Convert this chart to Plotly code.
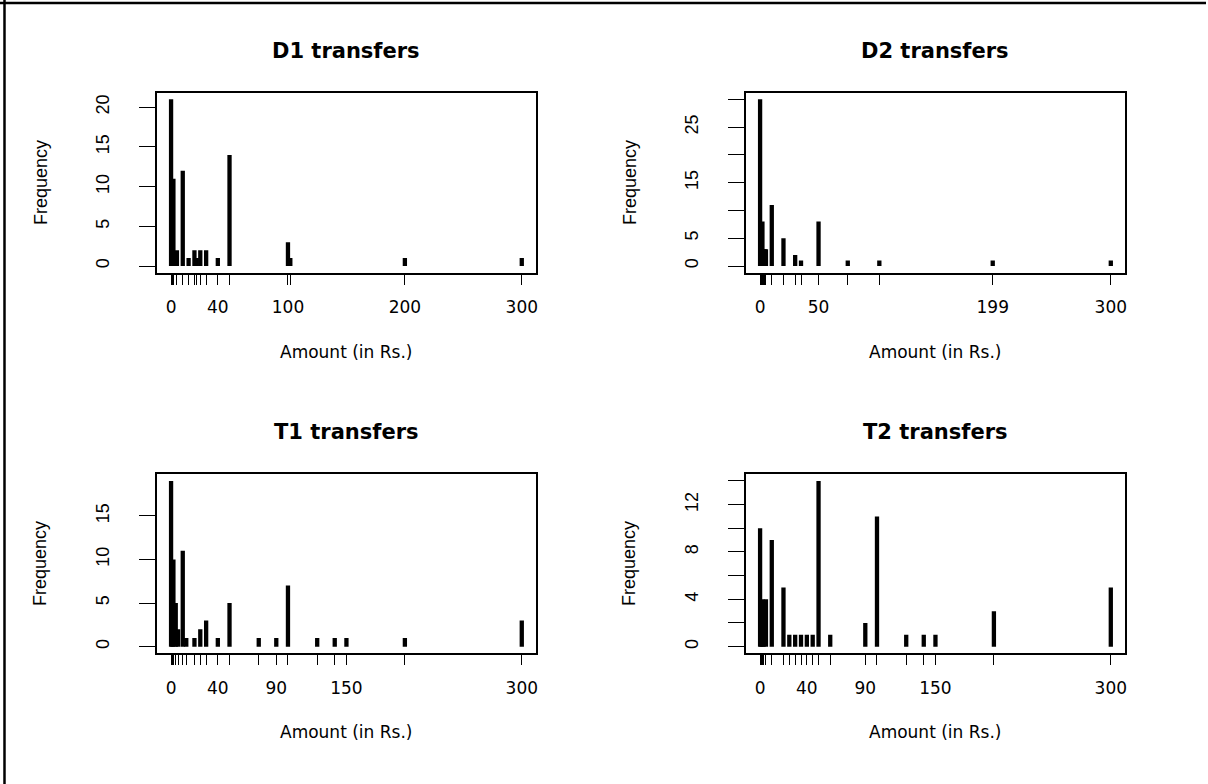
import plotly.graph_objects as go

# ---------------- data ----------------
d1_amount = [0, 1, 2, 5, 10, 15, 20, 22, 25, 30, 40, 50, 100, 102, 200, 300]
d1_freq   = [21, 5, 11, 2, 12, 1, 2, 1, 2, 2, 1, 14, 3, 1, 1, 1]
d1_xlabels = [0, 40, 100, 200, 300]
d1_yticks = [0, 5, 10, 15, 20]
d1_ylabels = [0, 5, 10, 15, 20]

d2_amount = [0, 1, 2, 3, 4, 5, 10, 20, 30, 35, 50, 75, 102, 199, 300]
d2_freq   = [30, 2, 8, 3, 3, 3, 11, 5, 2, 1, 8, 1, 1, 1, 1]
d2_xlabels = [0, 50, 199, 300]
d2_yticks = [0, 5, 10, 15, 20, 25, 30]
d2_ylabels = [0, 5, 15, 25]

t1_amount = [0, 1, 2, 4, 6, 10, 13, 20, 25, 30, 40, 50, 75, 90, 100, 125, 140, 150, 200, 300]
t1_freq   = [19, 3, 10, 5, 2, 11, 1, 1, 2, 3, 1, 5, 1, 1, 7, 1, 1, 1, 1, 3]
t1_xlabels = [0, 40, 90, 150, 300]
t1_yticks = [0, 5, 10, 15]
t1_ylabels = [0, 5, 10, 15]

t2_amount = [0, 1, 2, 3, 5, 10, 20, 25, 30, 35, 40, 45, 50, 60, 90, 100, 125, 140, 150, 200, 300]
t2_freq   = [10, 3, 4, 2, 4, 9, 5, 1, 1, 1, 1, 1, 14, 1, 2, 11, 1, 1, 1, 3, 5]
t2_xlabels = [0, 40, 90, 150, 300]
t2_yticks = [0, 2, 4, 6, 8, 10, 12, 14]
t2_ylabels = [0, 4, 8, 12]

titles = ["D1 transfers", "D2 transfers", "T1 transfers", "T2 transfers"]
xlab = "Amount (in Rs.)"
ylab = "Frequency"

panels = [
    (d1_amount, d1_freq, d1_xlabels, d1_yticks, d1_ylabels),
    (d2_amount, d2_freq, d2_xlabels, d2_yticks, d2_ylabels),
    (t1_amount, t1_freq, t1_xlabels, t1_yticks, t1_ylabels),
    (t2_amount, t2_freq, t2_xlabels, t2_yticks, t2_ylabels),
]

# ---------------- layout geometry (pixels) ----------------
W, H = 1208, 784
boxes = [  # left, right, top, bottom
    (157.3, 536.7, 92.7, 272.7),
    (747.3, 1126.7, 92.7, 272.7),
    (157.3, 536.7, 474.3, 653.3),
    (747.3, 1126.7, 474.3, 653.3),
]

fig = go.Figure()
layout = dict(
    width=W, height=H, margin=dict(l=0, r=0, t=0, b=0),
    paper_bgcolor="white", plot_bgcolor="white", showlegend=False,
)
annotations = []

for i, ((amt, freq, xl, ytv, yl), (L, R, T, B)) in enumerate(zip(panels, boxes)):
    n = "" if i == 0 else str(i + 1)
    xs, ys = [], []
    for a, f in zip(amt, freq):
        xs += [a, a, None]
        ys += [0, f, None]
    fig.add_trace(go.Scatter(x=xs, y=ys, mode="lines",
                             line=dict(color="black", width=4.3),
                             xaxis="x" + n, yaxis="y" + n, hoverinfo="skip"))
    xmin, xmax = min(amt), max(amt)
    xpad = 0.04 * (xmax - xmin)
    ymax = max(freq)
    ypad = 0.04 * ymax
    layout["xaxis" + n] = dict(
        domain=[L / W, R / W], anchor="y" + n,
        range=[xmin - xpad, xmax + xpad],
        tickmode="array", tickvals=amt,
        ticktext=[str(a) if a in xl else "" for a in amt],
        ticks="outside", ticklen=10, tickwidth=1.2, tickcolor="black",
        showline=True, linecolor="black", linewidth=1.8, mirror=True,
        showgrid=False, zeroline=False,
        tickfont=dict(family="DejaVu Sans", size=17, color="black"),
        ticklabelstandoff=8,
    )
    layout["yaxis" + n] = dict(
        domain=[1 - B / H, 1 - T / H], anchor="x" + n,
        range=[-ypad, ymax + ypad],
        tickmode="array", tickvals=ytv,
        ticktext=[str(v) if v in yl else "" for v in ytv],
        tickangle=-90,
        ticks="outside", ticklen=16, tickwidth=1.2, tickcolor="black",
        showline=True, linecolor="black", linewidth=1.8, mirror=True,
        showgrid=False, zeroline=False,
        tickfont=dict(family="Liberation Sans", size=18, color="black"),
        ticklabelstandoff=23,
    )
    cx = (L + R) / 2
    cy = (T + B) / 2
    annotations.append(dict(text="<b>" + titles[i] + "</b>", x=cx / W, y=1 - (T - 42) / H,
                            xref="paper", yref="paper", showarrow=False,
                            xanchor="center", yanchor="middle",
                            font=dict(family="DejaVu Sans", size=21, color="black")))
    annotations.append(dict(text=xlab, x=cx / W, y=1 - (B + 79) / H,
                            xref="paper", yref="paper", showarrow=False,
                            xanchor="center", yanchor="middle",
                            font=dict(family="DejaVu Sans", size=17, color="black")))
    annotations.append(dict(text=ylab, x=(L - 117) / W, y=1 - cy / H,
                            xref="paper", yref="paper", showarrow=False, textangle=-90,
                            xanchor="center", yanchor="middle",
                            font=dict(family="Liberation Sans", size=18, color="black")))

layout["annotations"] = annotations
layout["shapes"] = [
    dict(type="line", xref="paper", yref="paper", x0=0, x1=1, y0=1 - 3 / H, y1=1 - 3 / H,
         line=dict(color="black", width=2.5)),
    dict(type="line", xref="paper", yref="paper", x0=4.5 / W, x1=4.5 / W, y0=0, y1=1,
         line=dict(color="black", width=2.5)),
]
fig.update_layout(**layout)
fig.write_html("out.html", config={"displayModeBar": False},
               post_script="document.body.style.margin='0';document.body.style.overflow='hidden';")
